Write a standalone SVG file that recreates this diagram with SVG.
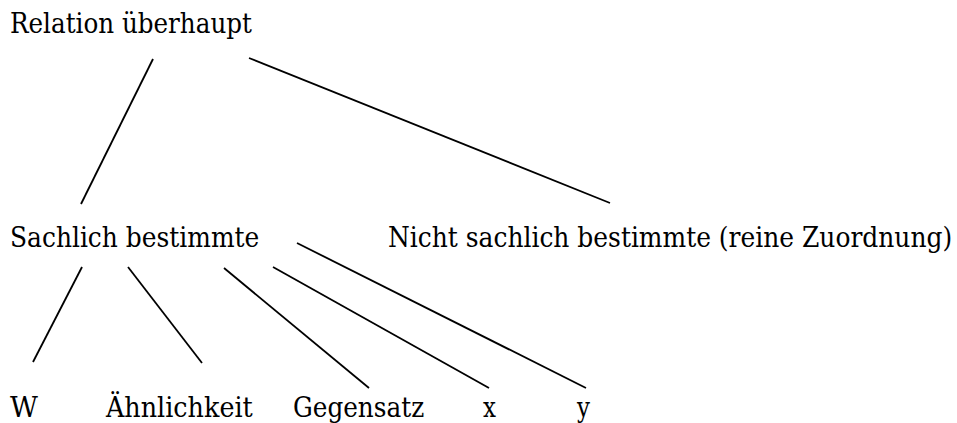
<svg xmlns="http://www.w3.org/2000/svg" width="957" height="423" viewBox="0 0 957 423">
<style>
.lbl { font-family: 'DejaVu Serif', 'Liberation Serif', serif; font-size: 28px; fill: #000; }
.edge { stroke: #000; stroke-width: 1.8; fill: none; }
</style>
<rect width="957" height="423" fill="#fff"/>
<g id="connectors">
<line class="edge" x1="153" y1="59" x2="81" y2="204"/>
<line class="edge" x1="249" y1="58" x2="610" y2="203"/>
<line class="edge" x1="82" y1="267" x2="33" y2="362"/>
<line class="edge" x1="128" y1="267" x2="202" y2="363"/>
<line class="edge" x1="224" y1="268" x2="369" y2="388"/>
<line class="edge" x1="273" y1="267" x2="489" y2="388"/>
<line class="edge" x1="297" y1="243" x2="586" y2="388"/>
</g>
<g id="node-relation"><text class="lbl" transform="translate(10,33) scale(0.82,1)" textLength="295" lengthAdjust="spacingAndGlyphs">Relation überhaupt</text></g>
<g id="node-sachlich"><text class="lbl" transform="translate(10,247) scale(0.82,1)" textLength="304" lengthAdjust="spacingAndGlyphs">Sachlich bestimmte</text></g>
<g id="node-nicht-sachlich"><text class="lbl" transform="translate(388,247) scale(0.82,1)" textLength="688" lengthAdjust="spacingAndGlyphs">Nicht sachlich bestimmte (reine Zuordnung)</text></g>
<g id="node-w"><text class="lbl" transform="translate(10,417) scale(0.82,1)" textLength="34" lengthAdjust="spacingAndGlyphs">W</text></g>
<g id="node-aehnlichkeit"><text class="lbl" transform="translate(106,417) scale(0.82,1)" textLength="179" lengthAdjust="spacingAndGlyphs">Ähnlichkeit</text></g>
<g id="node-gegensatz"><text class="lbl" transform="translate(293,417) scale(0.82,1)" textLength="160" lengthAdjust="spacingAndGlyphs">Gegensatz</text></g>
<g id="node-x"><text class="lbl" transform="translate(483,417) scale(0.82,1)">x</text></g>
<g id="node-y"><text class="lbl" transform="translate(577,417) scale(0.82,1)">y</text></g>
</svg>
